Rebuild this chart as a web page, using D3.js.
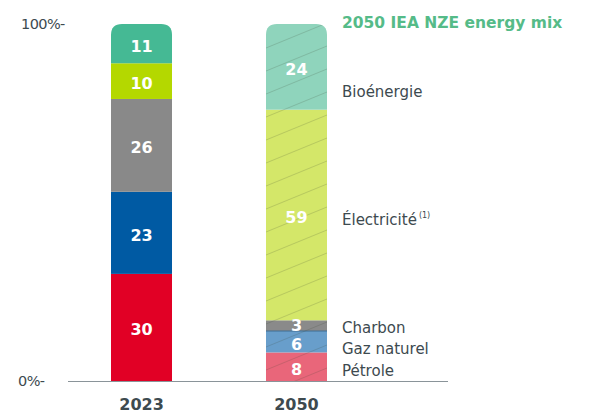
<!DOCTYPE html>
<html><head><meta charset="utf-8">
<script src="https://cdn.jsdelivr.net/npm/d3@7"></script>
<style>body{margin:0;background:#fff}svg{display:block}text{font-family:"DejaVu Sans",sans-serif}</style>
</head><body><svg id="c" width="593" height="413"></svg>
<script>
const years = ["2023", "2050"];
const categories = ["Pétrole", "Gaz naturel", "Charbon", "Électricité", "Bioénergie"];
const values2023 = [30, 23, 26, 10, 11];
const values2050 = [8, 6, 3, 59, 24];
const colors2023 = ["#e10025", "#005aa3", "#898989", "#b4d800", "#45b994"];
const colors2050 = ["#e9667a", "#689ecb", "#8a8a8a", "#d4e769", "#8fd4bc"];
const yTicks = [0, 100];
const title = "2050 IEA NZE energy mix";

const svg = d3.select("#c");
const y = d3.scaleLinear().domain([0, 100]).range([381, 24]);
const x = d3.scaleBand().domain(years).range([64.5, 373.5]).paddingInner(0.606).paddingOuter(0.3);
const ink = "#3d4a4f";

const defs = svg.append("defs");
const pat = defs.append("pattern").attr("id", "hatch").attr("patternUnits", "userSpaceOnUse")
  .attr("width", x.bandwidth()).attr("height", 23).attr("x", x("2050")).attr("y", 0);
pat.append("path").attr("d", `M0,25 L${x.bandwidth()},0 M0,48 L${x.bandwidth()},23 M0,2 L${x.bandwidth()},-23`)
  .attr("stroke", "rgba(50,60,40,0.24)").attr("stroke-width", 0.8).attr("fill", "none");

const series = [values2023, values2050];
const cols = [colors2023, colors2050];
years.forEach((yr, i) => {
  const bx = x(yr), bw = x.bandwidth(), r = 11;
  const top = y(100), bot = y(0);
  defs.append("clipPath").attr("id", "clip" + i).append("path")
    .attr("d", `M${bx},${bot} L${bx},${top + r} Q${bx},${top} ${bx + r},${top} L${bx + bw - r},${top} Q${bx + bw},${top} ${bx + bw},${top + r} L${bx + bw},${bot} Z`);
  const g = svg.append("g").attr("clip-path", `url(#clip${i})`);
  const stack = d3.cumsum(series[i]);
  const segs = series[i].map((v, k) => ({ v, k, y0: stack[k] - v, y1: stack[k] }));
  g.selectAll("rect").data(segs).join("rect")
    .attr("x", bx).attr("width", bw)
    .attr("y", d => y(d.y1)).attr("height", d => y(d.y0) - y(d.y1))
    .attr("fill", d => cols[i][d.k]);
  if (i === 1) {
    g.append("line").attr("x1", bx).attr("x2", bx + bw).attr("y1", y(14)).attr("y2", y(14))
      .attr("stroke", "#3f6f95").attr("stroke-width", 1);
    g.append("rect").attr("x", bx).attr("width", bw).attr("y", top).attr("height", bot - top)
      .attr("fill", "url(#hatch)");
  }
  svg.selectAll(".lab" + i).data(segs).join("text")
    .attr("x", bx + bw / 2).attr("y", d => (y(d.y0) + y(d.y1)) / 2 + (d.v < 5 ? 5 : 8))
    .attr("text-anchor", "middle").attr("fill", "#fff").attr("font-weight", "bold")
    .attr("font-size", 16).text(d => d.v);
  svg.append("text").attr("x", bx + bw / 2).attr("y", 410).attr("text-anchor", "middle")
    .attr("fill", ink).attr("font-weight", "bold").attr("font-size", 16).text(yr);
});

// baseline
svg.append("line").attr("x1", 68).attr("x2", 448).attr("y1", y(0) + 0.5).attr("y2", y(0) + 0.5)
  .attr("stroke", "#8a9499").attr("stroke-width", 1.2);

// y tick labels
svg.selectAll(".yt").data(yTicks).join("text")
  .attr("x", d => d === 100 ? 21 : 18).attr("y", d => y(d) + 5)
  .attr("fill", ink).attr("font-size", 14.5).attr("letter-spacing", -0.6)
  .text(d => d + "%-");

// title
svg.append("text").attr("x", 342).attr("y", 28).attr("fill", "#55bb88")
  .attr("font-weight", "bold").attr("font-size", 15.5).text(title);

// legend labels
const legendY = [376, 354, 333, 225, 97];
categories.forEach((c, k) => {
  const t = svg.append("text").attr("x", 342).attr("y", legendY[k]).attr("fill", ink)
    .attr("font-size", 15).text(c);
  if (k === 3) t.append("tspan").attr("font-size", 8).attr("dy", -7).attr("dx", 2).text("(1)");
});
</script></body></html>
